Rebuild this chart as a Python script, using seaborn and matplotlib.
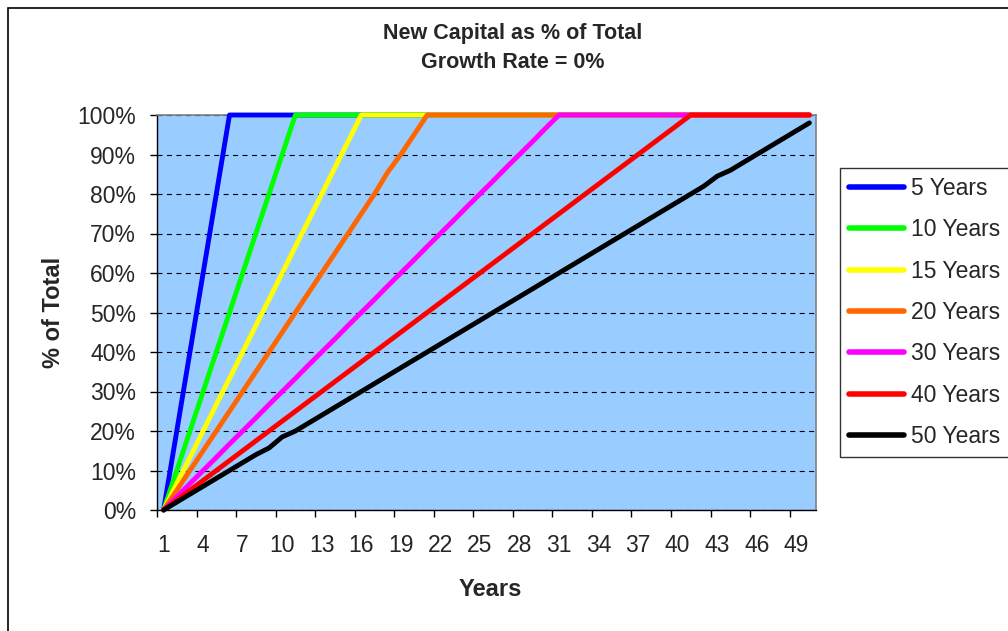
import numpy as np
import pandas as pd
import matplotlib
matplotlib.use("Agg")
import matplotlib.pyplot as plt
import seaborn as sns
from matplotlib.patches import Rectangle

# chart values (percent of total)
years = list(range(1, 51))

five_years = [0, 20, 40, 60, 80, 100, 100, 100, 100, 100,
              100, 100, 100, 100, 100, 100, 100, 100, 100, 100,
              100, 100, 100, 100, 100, 100, 100, 100, 100, 100,
              100, 100, 100, 100, 100, 100, 100, 100, 100, 100,
              100, 100, 100, 100, 100, 100, 100, 100, 100, 100]
ten_years = [0, 10, 20, 30, 40, 50, 60, 70, 80, 90,
             100, 100, 100, 100, 100, 100, 100, 100, 100, 100,
             100, 100, 100, 100, 100, 100, 100, 100, 100, 100,
             100, 100, 100, 100, 100, 100, 100, 100, 100, 100,
             100, 100, 100, 100, 100, 100, 100, 100, 100, 100]
fifteen_years = [0, 6.7, 13.3, 20, 26.7, 33.3, 40, 46.7, 53.3, 60,
                 66.7, 73.3, 80, 86.7, 93.3, 100, 100, 100, 100, 100,
                 100, 100, 100, 100, 100, 100, 100, 100, 100, 100,
                 100, 100, 100, 100, 100, 100, 100, 100, 100, 100,
                 100, 100, 100, 100, 100, 100, 100, 100, 100, 100]
twenty_years = [0, 5, 10, 15, 20, 25, 30, 35, 40, 45,
                50, 55, 60, 65, 70, 75, 80, 85.5, 90, 95,
                100, 100, 100, 100, 100, 100, 100, 100, 100, 100,
                100, 100, 100, 100, 100, 100, 100, 100, 100, 100,
                100, 100, 100, 100, 100, 100, 100, 100, 100, 100]
thirty_years = [0, 3.3, 6.7, 10, 13.3, 16.7, 20, 23.3, 26.7, 30,
                33.3, 36.7, 40, 43.3, 46.7, 50, 53.3, 56.7, 60, 63.3,
                66.7, 70, 73.3, 76.7, 80, 83.3, 86.7, 90, 93.3, 96.7,
                100, 100, 100, 100, 100, 100, 100, 100, 100, 100,
                100, 100, 100, 100, 100, 100, 100, 100, 100, 100]
forty_years = [0, 2.5, 5, 7.5, 10, 12.5, 15, 17.5, 20, 22.5,
               25, 27.5, 30, 32.5, 35, 37.5, 40, 42.5, 45, 47.5,
               50, 52.5, 55, 57.5, 60, 62.5, 65, 67.5, 70, 72.5,
               75, 77.5, 80, 82.5, 85, 87.5, 90, 92.5, 95, 97.5,
               100, 100, 100, 100, 100, 100, 100, 100, 100, 100]
fifty_years = [0, 2, 4, 6, 8, 10, 12, 14, 15.7, 18.5,
               20, 22, 24, 26, 28, 30, 32, 34, 36, 38,
               40, 42, 44, 46, 48, 50, 52, 54, 56, 58,
               60, 62, 64, 66, 68, 70, 72, 74, 76, 78,
               80, 82, 84.5, 86, 88, 90, 92, 94, 96, 98]

series_names = ["5 Years", "10 Years", "15 Years", "20 Years",
                "30 Years", "40 Years", "50 Years"]
series_values = [five_years, ten_years, fifteen_years, twenty_years,
                 thirty_years, forty_years, fifty_years]
series_colors = ["#0000FF", "#00FF00", "#FFFF00", "#FF6600",
                 "#FF00FF", "#FF0000", "#000000"]
x_tick_labels = [str(y) for y in range(1, 50, 3)]
y_tick_labels = [f"{v}%" for v in range(0, 101, 10)]

# long-form table for seaborn
df = pd.concat([pd.DataFrame({"Year": years, "Pct": vals, "Series": name})
                for name, vals in zip(series_names, series_values)],
               ignore_index=True)

sns.set_theme(style="white")
plt.rcParams['font.family'] = ['Liberation Sans', 'DejaVu Sans']

fig = plt.figure(figsize=(10.08, 6.31), dpi=100)
ax = fig.add_axes([157 / 1008, 1 - 510 / 631, 659 / 1008, 395 / 631])
ax.set_facecolor("#99CCFF")

sns.lineplot(data=df, x="Year", y="Pct", hue="Series", hue_order=series_names,
             palette=dict(zip(series_names, series_colors)), linewidth=3.5,
             ax=ax, legend=True)
for line in ax.get_lines():
    line.set_clip_on(False)
    line.set_zorder(3)
    line.set_solid_capstyle("round")
    line.set_solid_joinstyle("round")

ax.set_xlim(0.5, 50.5)
ax.set_ylim(0, 100)
ax.set_xticks(list(range(1, 50, 3)))
ax.set_xticklabels(x_tick_labels)
ax.set_xticks(np.arange(0.5, 49, 3), minor=True)
ax.set_yticks(list(range(0, 101, 10)))
ax.set_yticklabels(y_tick_labels)
ax.tick_params(axis="x", which="major", length=0, pad=17, labelsize=16.5)
ax.tick_params(axis="x", which="minor", length=5, width=1, color="black",
               direction="out", bottom=True)
ax.tick_params(axis="y", which="major", length=5, width=1, color="black",
               direction="out", left=True, pad=10, labelsize=16.5)

ax.yaxis.grid(True, color="black", linestyle=(0, (4.5, 4)), linewidth=0.8)
ax.xaxis.grid(False)
ax.set_axisbelow(True)

for side in ["top", "right"]:
    ax.spines[side].set_color("#808080")
    ax.spines[side].set_linewidth(1.2)
for side in ["left", "bottom"]:
    ax.spines[side].set_color("black")
    ax.spines[side].set_linewidth(1)

ax.set_xlabel("Years", fontsize=17, fontweight="bold")
ax.set_ylabel("% of Total", fontsize=17, fontweight="bold")
ax.xaxis.set_label_coords((490 - 157) / 659, -(590 - 510) / 395)
ax.xaxis.label.set_va("center")
ax.yaxis.set_label_coords(-(157 - 53) / 659, (510 - 312) / 395)
ax.yaxis.label.set_va("center")

fig.text(513 / 1008, 1 - 33 / 631, "New Capital as % of Total",
         ha="center", va="center", fontsize=15.5, fontweight="bold")
fig.text(513 / 1008, 1 - 62 / 631, "Growth Rate = 0%",
         ha="center", va="center", fontsize=15.5, fontweight="bold")

handles, labels = ax.get_legend_handles_labels()
leg = ax.legend(handles, labels, loc="upper left",
                bbox_to_anchor=(840 / 1008, 1 - 168 / 631),
                bbox_transform=fig.transFigure, borderaxespad=0,
                fontsize=16.5, frameon=True, fancybox=False, shadow=False,
                handlelength=2.4, handletextpad=0.3, labelspacing=0.8,
                borderpad=0.4)
leg.get_frame().set_edgecolor("black")
leg.get_frame().set_linewidth(1)
leg.get_frame().set_facecolor("white")
for h in leg.get_lines():
    h.set_linewidth(4)

# outer chart border
fig.patches.append(Rectangle((8 / 1008, -0.1), 1.2, 1.1 - 8 / 631,
                             transform=fig.transFigure, fill=False,
                             edgecolor="black", linewidth=1.2))

fig.savefig("out.png", dpi=100)
